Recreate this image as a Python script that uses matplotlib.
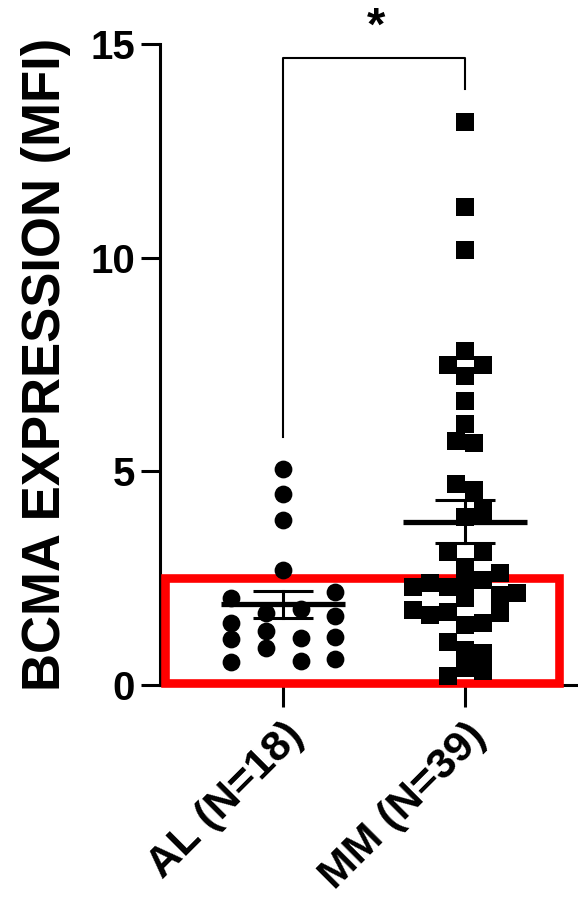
import numpy as np
import matplotlib
matplotlib.use("Agg")
import matplotlib.pyplot as plt
from matplotlib.patches import Rectangle

plt.rcParams['font.family'] = ['Liberation Sans', 'DejaVu Sans']
plt.rcParams['font.weight'] = 'bold'

categories = ["AL (N=18)", "MM (N=39)"]
al_values = [5.05, 4.47, 3.85, 2.69,
             2.03, 1.46, 1.07, 0.53,
             1.68, 1.27, 0.86,
             1.77, 1.09, 0.56,
             2.18, 1.62, 1.13, 0.62]
al_slots = [0, 0, 0, 0,
            -3, -3, -3, -3,
            -1, -1, -1,
            1, 1, 1,
            3, 3, 3, 3]
mm_values = [13.18, 11.18, 10.18, 7.82, 7.49, 7.49, 7.23,
             6.65, 6.11, 5.72, 5.67, 4.70, 4.56, 4.08, 3.94,
             3.12, 3.12, 2.77, 2.63, 2.29, 2.39, 2.30, 2.46, 2.46,
             2.03, 2.11, 2.16, 1.76, 1.64, 1.70, 1.68, 1.40, 1.46,
             1.01, 0.82, 0.74, 0.39, 0.33, 0.21]
mm_slots = [0, 0, 0, 0, -1, 1, 0,
            0, 0, -0.5, 0.5, -0.5, 0.5, 1, 0,
            -1, 1, 0, 2, -3, -2, -1, 0, 1,
            0, 2, 3, -3, -2, -1, 2, 0, 1,
            -1, 0, 1, 0, 1, -1]
yticks = [0, 5, 10, 15]
ylabel = "BCMA EXPRESSION (MFI)"
significance = "*"

W, H = 578, 905
fig = plt.figure(figsize=(W / 100, H / 100), dpi=100)
ax = fig.add_axes([160 / W, (H - 685) / H, (577 - 160) / W, (685 - 44) / H])

step = 0.096
xs_al = 0 + step * np.array(al_slots)
xs_mm = 1 + step * np.array(mm_slots)

ax.plot(xs_al, al_values, 'o', color='black', markersize=12.8, markeredgewidth=0,
        clip_on=False, zorder=4)
ax.plot(xs_mm, mm_values, 's', color='black', markersize=12.4, markeredgewidth=0,
        clip_on=False, zorder=4)

for i, vals in enumerate([al_values, mm_values]):
    v = np.array(vals)
    m = v.mean()
    sem = v.std(ddof=1) / np.sqrt(len(v))
    ax.plot([i - 0.34, i + 0.34], [m, m], color='black', lw=3.8, zorder=5,
            solid_capstyle='butt')
    ax.plot([i, i], [m - sem, m + sem], color='black', lw=2.2, zorder=5)
    for y in (m - sem, m + sem):
        ax.plot([i - 0.165, i + 0.165], [y, y], color='black', lw=2.2, zorder=5,
                solid_capstyle='butt')

# red highlight box
ax.add_patch(Rectangle((-0.648, 0.04), 1.516 + 0.648, 2.46, fill=False,
                       edgecolor='#FF0000', lw=6.2, zorder=3, clip_on=False))

# significance bracket
ax.plot([0, 0, 1, 1], [5.8, 14.67, 14.67, 13.95], color='black', lw=1.5,
        clip_on=False, zorder=5)
ax.text(0.511, 15.38, significance, ha='center', va='center', fontsize=34,
        fontweight='bold', clip_on=False)

ax.set_xlim(-0.676, 1.615)
ax.set_ylim(0, 15)
ax.set_yticks(yticks)
ax.set_yticklabels([str(t) for t in yticks], fontsize=29, fontweight='bold')
ax.set_xticks([0, 1])
ax.set_xticklabels(categories, fontsize=31, fontweight='bold', rotation=45,
                   ha='right', va='top', rotation_mode='anchor')
for lbl in ax.get_xticklabels():
    lbl.set_x(lbl.get_position()[0])
ax.set_ylabel(ylabel, fontsize=38, fontweight='bold', labelpad=14)

for s in ['top', 'right']:
    ax.spines[s].set_visible(False)
for s in ['left', 'bottom']:
    ax.spines[s].set_linewidth(2.2)
ax.tick_params(axis='y', length=14, width=2.2, pad=4)
ax.tick_params(axis='x', length=16, width=2.2, pad=6)

fig.savefig("out.png", dpi=100)
